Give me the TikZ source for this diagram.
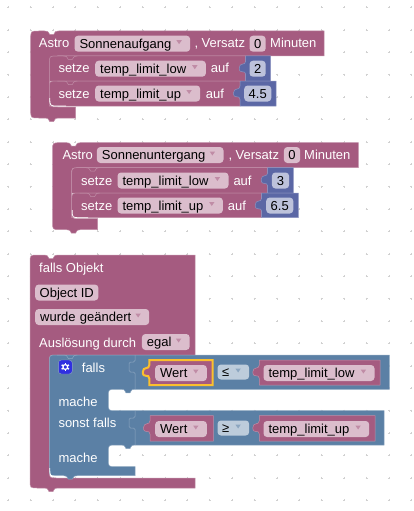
\documentclass[tikz,border=0pt]{standalone}
\usepackage{fontspec}
\setmainfont{Liberation Sans}
\usepackage{xcolor}
\usepackage{tikz}
\definecolor{blkpink}{RGB}{165,91,128}
\definecolor{edgepink}{RGB}{192,140,166}
\definecolor{fldpink}{RGB}{219,189,204}
\definecolor{blkblue}{RGB}{91,128,165}
\definecolor{edgeblue}{RGB}{140,166,192}
\definecolor{fldblue}{RGB}{189,204,219}
\definecolor{blknum}{RGB}{91,103,165}
\definecolor{edgenum}{RGB}{140,148,192}
\definecolor{fldnum}{RGB}{189,194,219}
\definecolor{selyellow}{RGB}{251,192,45}
\definecolor{gearblue}{RGB}{48,48,224}
\newcommand{\notchtop}[2]{-- (#1+14,#2) .. controls (#1+17,#2) .. (#1+19,#2+3.5) -- (#1+23,#2+3.5) .. controls (#1+25,#2) .. (#1+28,#2)}
\newcommand{\notchbot}[2]{-- (#1+28,#2) .. controls (#1+25,#2) .. (#1+23,#2+3.5) -- (#1+19,#2+3.5) .. controls (#1+17,#2) .. (#1+14,#2)}
\newcommand{\tabup}[2]{-- (#1,#2+18.5) .. controls (#1,#2+13) and (#1-6.5,#2+19) .. (#1-6.5,#2+12) .. controls (#1-6.5,#2+6) and (#1,#2+10) .. (#1,#2+5) -- (#1,#2)}
\newcommand{\valblock}[5]{\filldraw[#5] (#3,#2) -- (#3,#4) -- (#1,#4) \tabup{#1}{#2} -- cycle;}
\newcommand{\cblock}[3]{\filldraw[blk] (#1+8,#2) \notchtop{#1}{#2} -- (#3,#2) -- (#3,#2+25) -- (#1+27,#2+25)
  .. controls (#1+19,#2+25) .. (#1+19,#2+33) -- (#1+19,#2+68) .. controls (#1+19,#2+76) .. (#1+27,#2+76)
  -- (#1+45,#2+76) -- (#1+45,#2+87) \notchbot{#1}{#2+87} -- (#1+8,#2+87) .. controls (#1,#2+87) .. (#1,#2+79)
  -- (#1,#2+8) .. controls (#1,#2) .. (#1+8,#2) -- cycle;}
\newcommand{\setblock}[4]{\filldraw[blk] (#1+8,#2) -- (#3,#2) -- (#3,#4) -- (#1,#4) -- (#1,#2+8) .. controls (#1,#2) .. (#1+8,#2) -- cycle;
  \draw[edgepink, line width=0.5pt] (#1,#2) (#1+8,#2) \notchtop{#1}{#2};}
\newcommand{\ddarrow}[2]{\fill[#2] ([xshift=-14pt,yshift=3.5pt]#1.east) -- ++(5.4,0) -- ++(-2.7,4) -- cycle;}

\begin{document}
\begin{tikzpicture}[x=1pt, y=-1pt, font=\fontsize{13}{15}\selectfont,
    blk/.style={fill=blkpink, draw=edgepink, line width=0.5pt},
    lgc/.style={fill=blkblue, draw=edgeblue, line width=0.5pt},
    num/.style={fill=blknum, draw=edgenum, line width=0.5pt},
    lbl/.style={anchor=west, inner sep=0pt, text=white, text height=9.5pt, text depth=0.5pt},
    fld/.style={anchor=west, inner xsep=5pt, inner ysep=3pt, fill=fldpink, rounded corners=3.5pt,
                text height=9.5pt, text depth=0.5pt, text=black},
    cmp/.style={fld, fill=fldblue}]
  \useasboundingbox (0,0) rectangle (413,511);
  % canvas dots
  \foreach \i in {0,...,18} {
    \foreach \j in {0,...,22} {
      \draw[black!18, line width=0.5pt] (8.1+22.4*\i-1,7.4+22.4*\j) -- ++(2,0)
        (8.1+22.4*\i,7.4+22.4*\j-1) -- ++(0,2);
    }
  }
  % sunrise
  \cblock{30.7}{31}{324}
  \setblock{49.3}{56}{245.7}{81}
  \setblock{49.3}{81}{240}{106}
  \draw[white, line width=0.8pt] (49.8,98) .. controls (49.8,106) .. (58,106) -- (66,106);
  \valblock{245.7}{56}{270.7}{81}{num}
  \valblock{240}{81}{276}{106}{num}
  \node[lbl] (astroa) at (38.7,43.5) {Astro};
  \node[fld, text width=105.7pt] (sunrise) at (74.3,43.7) {Sonnenaufgang};
  \node[lbl] (versa) at (194.3,43.5) {, Versatz};
  \node[fld, inner xsep=4.5pt] (offa) at (249.3,43.7) {0};
  \node[lbl] (mina) at (270,43.5) {Minuten};
  \node[lbl] (seta) at (58.3,68.5) {setze};
  \node[fld, text width=100.7pt] (lowa) at (95,68.7) {temp\_limit\_low};
  \node[lbl] (aufa) at (210.7,68.5) {auf};
  \node[fld, fill=fldnum, inner xsep=4.5pt] (vala) at (249.3,68.7) {2};
  \node[lbl] (setb) at (58.3,93.5) {setze};
  \node[fld, text width=95pt] (upa) at (95,93.5) {temp\_limit\_up};
  \node[lbl] (aufb) at (205.7,93.5) {auf};
  \node[fld, fill=fldnum, inner xsep=4.5pt] (valb) at (244,93.5) {4.5};
  \ddarrow{sunrise}{blkpink!70}
  \ddarrow{lowa}{blkpink!70}
  \ddarrow{upa}{blkpink!70}
  % sunset
  \cblock{52.5}{142.7}{358.3}
  \setblock{71.7}{167.7}{267.7}{193}
  \setblock{71.7}{193}{261.7}{217.7}
  \draw[white, line width=0.8pt] (72.2,210) .. controls (72.2,217.7) .. (80,217.7) -- (88,217.7);
  \valblock{267.7}{167.7}{293.3}{193}{num}
  \valblock{261.7}{193}{298.3}{217.7}{num}
  \node[lbl] (astrob) at (62.3,155) {Astro};
  \node[fld, text width=116.6pt] (sunset) at (96.7,155) {Sonnenuntergang};
  \node[lbl] (versb) at (228.3,155) {, Versatz};
  \node[fld, inner xsep=4.5pt] (offb) at (283.7,155) {0};
  \node[lbl] (minb) at (304,155) {Minuten};
  \node[lbl] (setc) at (81,180.5) {setze};
  \node[fld, text width=101pt] (lowb) at (117.3,180.5) {temp\_limit\_low};
  \node[lbl] (aufc) at (233.3,180.5) {auf};
  \node[fld, fill=fldnum, inner xsep=5pt] (valc) at (271.7,180.5) {3};
  \node[lbl] (setd) at (81,205.5) {setze};
  \node[fld, text width=95.4pt] (upb) at (117.3,205.5) {temp\_limit\_up};
  \node[lbl] (aufd) at (227.7,205.5) {auf};
  \node[fld, fill=fldnum, inner xsep=4.5pt] (vald) at (266,205.5) {6.5};
  \ddarrow{sunset}{blkpink!70}
  \ddarrow{lowb}{blkpink!70}
  \ddarrow{upb}{blkpink!70}
  % trigger
  \filldraw[blk] (38,255) \notchtop{30}{255} -- (195,255) -- (195,355) -- (57,355)
    .. controls (49.3,355) .. (49.3,363) -- (49.3,470) .. controls (49.3,478) .. (57,478)
    -- (195,478) -- (195,488) \notchbot{30}{488} -- (38,488) .. controls (30,488) .. (30,480)
    -- (30,263) .. controls (30,255) .. (38,255) -- cycle;
  \node[lbl] (trig) at (39,267.5) {falls Objekt};
  \node[fld, inner xsep=4.5pt] (objid) at (35,292.5) {Object ID};
  \node[fld, text width=104pt] (changed) at (35,317) {wurde geändert};
  \node[lbl] (cause) at (39,342.5) {Auslösung durch};
  \node[fld, text width=37.8pt] (egal) at (141.7,342) {egal};
  \ddarrow{changed}{blkpink!70}
  \ddarrow{egal}{blkpink!70}
  % if block
  \filldraw[lgc] (57,355) -- (389.3,355) -- (389.3,389.3)
    \notchbot{107}{389.3} -- (116,389.3) .. controls (108.3,389.3) .. (108.3,397) -- (108.3,403)
    .. controls (108.3,410.7) .. (116,410.7) -- (384,410.7) -- (384,445) \notchbot{107}{445}
    -- (116,445) .. controls (108.3,445) .. (108.3,453) -- (108.3,459) .. controls (108.3,466.7) .. (116,466.7)
    -- (135,466.7) -- (135,475.7) \notchbot{49.3}{475.7} -- (57,475.7) .. controls (49.3,475.7) .. (49.3,468)
    -- (49.3,363) .. controls (49.3,355) .. (57,355) -- cycle;
  \draw[edgeblue, line width=0.5pt] (57,355) \notchtop{49.3}{355};
  \draw[white, line width=0.8pt] (49.8,468) .. controls (49.8,476.2) .. (57,476.2) -- (64,476.2);
  \draw[edgeblue, line width=0.5pt, rounded corners=1.5pt] (135,355) -- (135,362) -- (129,362) -- (129,372) -- (135,372) -- (135,389)
    (135,411) -- (135,418) -- (129,418) -- (129,428) -- (135,428) -- (135,445);
  \node[lbl] (ifa) at (81.7,367.5) {falls};
  \node[lbl] (doa) at (58.3,401.7) {mache};
  \node[lbl] (ifb) at (58.3,423.3) {sonst falls};
  \node[lbl] (dob) at (58.3,457.7) {mache};
  \node[fill=gearblue, draw=edgeblue, rounded corners=3pt, minimum size=14pt, inner sep=0pt] (icon) at (65.3,367) {};
  \foreach \a in {0,60,...,300} {
    \fill[white, rotate around={\a:(icon.center)}] ([xshift=-0.7pt]icon.center) ++(0,2) rectangle ++(1.4,2.2);
  }
  \draw[white, line width=1.2pt] (icon.center) circle[radius=2.4pt];
  % conditions
  \valblock{149.3}{360}{212.7}{385}{blk}
  \draw[selyellow, line width=2pt] (212.7,360) -- (212.7,385) -- (149.3,385) \tabup{149.3}{360} -- cycle;
  \node[fld, text width=41.7pt] (wera) at (155,373) {Wert};
  \node[cmp, inner xsep=4.5pt, text width=22.7pt, inner ysep=2.5pt] (lea) at (217.3,372) {≤};
  \valblock{259.3}{360}{380}{385}{blk}
  \node[fld, text width=101pt] (lowc) at (263.3,373) {temp\_limit\_low};
  \ddarrow{wera}{blkpink!70}
  \ddarrow{lea}{blkblue!70}
  \ddarrow{lowc}{blkpink!70}
  \valblock{150}{415.7}{213.3}{441}{blk}
  \node[fld, text width=41.7pt] (werb) at (155,429) {Wert};
  \node[cmp, inner xsep=4.5pt, text width=22.7pt, inner ysep=2.5pt] (geb) at (217.3,428) {≥};
  \valblock{259.3}{415.7}{375}{441}{blk}
  \node[fld, text width=95.7pt] (upc) at (263.3,429) {temp\_limit\_up};
  \ddarrow{werb}{blkpink!70}
  \ddarrow{geb}{blkblue!70}
  \ddarrow{upc}{blkpink!70}
\end{tikzpicture}
\end{document}
